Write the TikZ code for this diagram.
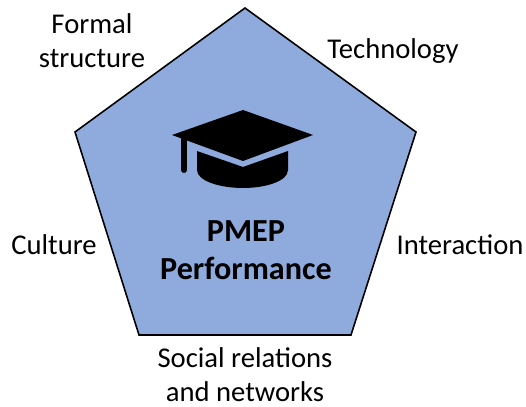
\documentclass[tikz,border=0pt]{standalone}
\usepackage{fontspec}
\setmainfont{Carlito}
\definecolor{pentafill}{RGB}{143,170,220}
\tikzset{
  lbl/.style={align=center,inner sep=0pt,font=\fontsize{16.3}{19.3}\selectfont},
  title/.style={align=center,inner sep=0pt,font=\fontsize{18.3}{21.5}\selectfont\bfseries}
}
\begin{document}
\begin{tikzpicture}[scale=0.02]
  \useasboundingbox (0,0) rectangle (526,407);
  % pentagon
  \draw[fill=pentafill,line width=0.9pt,line join=miter] (245,399) -- (416,275) -- (351,72) -- (139,72) -- (75,275) -- cycle;
  % cap
  \fill (243,297) -- (313,272) -- (243,246) -- (172,272) -- cycle;
  \fill (197,256) -- (243,240) -- (288,256) -- (288,237) .. controls (288,226) and (266,219) .. (243,219) .. controls (220,219) and (197,226) .. (197,237) -- cycle;
  \draw[line width=3.4pt,line cap=round] (184,268) -- (184,237);
  % labels
  \node[title] (perf) at (246,157) {PMEP\\Performance};
  \node[lbl] (formal) at (92,366) {Formal\\structure};
  \node[lbl] (tech) at (393,356) {Technology};
  \node[lbl] (inter) at (460,162) {Interaction};
  \node[lbl] (cult) at (54,162) {Culture};
  \node[lbl] (social) at (245,32) {Social relations\\and networks};
\end{tikzpicture}
\end{document}
